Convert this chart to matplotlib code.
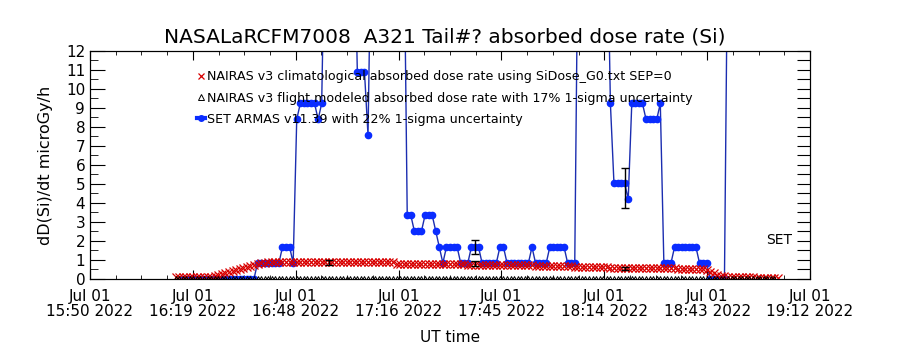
import numpy as np
import matplotlib
matplotlib.use("Agg")
import matplotlib.pyplot as plt
from matplotlib.lines import Line2D
from matplotlib.ticker import MultipleLocator, AutoMinorLocator

# ---------------------------------------------------------------- data
# time axis: minutes after 15:50 UT, 1-min cadence
T0_SET, T0_CLIM, T0_FLT = 26, 24, 24
OFF = 20.0   # samples that run off the top of the plot

set_armas = (
    [0.0] * 21 +
    [0.84] * 7 + [1.68] * 3 + [0.84] + [8.4] + [9.24] * 5 + [8.4] + [9.24] +
    [OFF] * 9 + [10.92] * 3 + [7.56] + [OFF] * 10 +
    [3.36] * 2 + [2.52] * 3 + [3.36] * 3 + [2.52] + [1.68] + [0.84] +
    [1.68] * 4 + [0.84] * 3 + [1.68] * 3 + [0.84] * 5 + [1.68] * 2 +
    [0.84] * 7 + [1.68] + [0.84] * 4 + [1.68] * 5 + [0.84] * 3 +
    [OFF] * 9 + [9.24] + [5.04] * 4 + [4.2] + [9.24] * 4 + [8.4] * 4 + [9.24] +
    [0.84] * 3 + [1.68] * 7 + [0.84] * 3 + [0.0] * 5 + [OFF]
)

clim = [
    0.08, 0.08, 0.09, 0.09, 0.10, 0.10, 0.10, 0.11, 0.11, 0.12,
    0.13, 0.16, 0.20, 0.25, 0.30, 0.35, 0.41, 0.47, 0.53, 0.59,
    0.65, 0.70, 0.76, 0.80, 0.83, 0.86, 0.87,
    0.88, 0.88, 0.89, 0.89, 0.89, 0.90, 0.90, 0.90, 0.90, 0.90,
    0.90, 0.90, 0.90, 0.90, 0.90, 0.90, 0.90, 0.89, 0.89, 0.89,
    0.89, 0.89, 0.89, 0.89, 0.89, 0.89, 0.89, 0.89, 0.89, 0.89,
    0.89, 0.89, 0.88, 0.88, 0.88,
    0.80, 0.80, 0.79, 0.79, 0.79, 0.79, 0.79, 0.79, 0.79, 0.78,
    0.78, 0.78, 0.78, 0.78, 0.77, 0.77, 0.77, 0.77, 0.77, 0.77,
    0.76, 0.76, 0.76, 0.76, 0.76, 0.75, 0.75, 0.75, 0.75, 0.75,
    0.74,
    0.74, 0.74, 0.73, 0.73, 0.72, 0.72, 0.71, 0.71, 0.70, 0.70,
    0.69, 0.69, 0.68, 0.68, 0.67, 0.67, 0.66, 0.66, 0.66, 0.65,
    0.65, 0.64, 0.64, 0.63, 0.63, 0.62, 0.62, 0.61, 0.61, 0.60,
    0.60, 0.60, 0.59, 0.59, 0.59, 0.58, 0.58, 0.58, 0.58, 0.57,
    0.57, 0.57, 0.57, 0.56, 0.56, 0.56, 0.56, 0.56, 0.55, 0.55,
    0.55, 0.55, 0.54, 0.53,
    0.54, 0.52, 0.46, 0.38, 0.30, 0.23, 0.17, 0.14, 0.12, 0.11,
    0.10, 0.10, 0.09, 0.09, 0.08, 0.08, 0.07, 0.07, 0.06, 0.06,
    0.05, 0.05, 0.04,
]

flight = [0.0] * 169

# error bars (minutes, value, 1-sigma)
flt_err_t = [67, 108, 150]
flt_err_y = [0.87, 0.80, 0.56]
set_err_t = [108, 150]
set_err_y = [1.68, 4.80]

tick_labels = ["Jul 01\n15:50 2022", "Jul 01\n16:19 2022", "Jul 01\n16:48 2022",
               "Jul 01\n17:16 2022", "Jul 01\n17:45 2022", "Jul 01\n18:14 2022",
               "Jul 01\n18:43 2022", "Jul 01\n19:12 2022"]

t_set = T0_SET + np.arange(len(set_armas))
t_clim = T0_CLIM + np.arange(len(clim))
t_flt = T0_FLT + np.arange(len(flight))

# ---------------------------------------------------------------- plot
RED, BLUE_L, BLUE_M = "#d80000", "#1b2db0", "#0a2cff"
fig = plt.figure(figsize=(9, 3.5), dpi=100)
ax = fig.add_axes([0.1, 0.2029, 0.8, 0.6514])

ax.plot(t_set, set_armas, "-", color=BLUE_L, lw=1.0, zorder=2)
ax.plot(t_set, set_armas, "o", color=BLUE_M, ms=4.5, ls="none", zorder=3)
ax.plot(t_clim, clim, "x", color=RED, ms=5.5, mew=0.9, ls="none", zorder=4)
ax.plot(t_flt, flight, "^", mfc="none", mec="k", ms=4, mew=0.7, ls="none", zorder=5)
ax.errorbar(flt_err_t, flt_err_y, yerr=[0.17 * v for v in flt_err_y], fmt="none",
            ecolor="k", elinewidth=1, capsize=3, zorder=6)
ax.errorbar(set_err_t, set_err_y, yerr=[0.22 * v for v in set_err_y], fmt="none",
            ecolor="k", elinewidth=1, capsize=3, zorder=6)

ax.set_xlim(0, 202)
ax.set_ylim(0, 12)
ax.set_xticks(np.linspace(0, 202, 8))
ax.set_xticklabels(tick_labels, fontsize=11, linespacing=1.0)
ax.xaxis.set_minor_locator(AutoMinorLocator(4))
ax.set_yticks(range(13))
ax.yaxis.set_minor_locator(MultipleLocator(0.5))
ax.tick_params(axis="x", which="major", direction="in", length=6.5, top=True, pad=7)
ax.tick_params(axis="x", which="minor", direction="in", length=3.2, top=True)
ax.tick_params(axis="y", which="major", direction="in", length=10.8, labelsize=11, right=False)
ax.tick_params(axis="y", which="minor", direction="in", length=5.5, right=False)

ax2 = ax.twinx()
ax2.set_ylim(0, 12)
ax2.set_yticks(np.arange(0, 12.5, 0.5))
ax2.tick_params(axis="y", direction="in", length=9.4, labelright=False)

ax.set_xlabel("UT time", fontsize=11, labelpad=8)
ax.set_ylabel("dD(Si)/dt microGy/h", fontsize=11.5, labelpad=9)
ax.text(197, 2.05, "SET", ha="right", va="center", fontsize=10)
fig.text(0.494, 0.894, "NASALaRCFM7008  A321 Tail#? absorbed dose rate (Si)",
         ha="center", va="center", fontsize=14.5)

handles = [
    Line2D([], [], color=RED, marker="x", ms=5, mew=0.9, ls="none"),
    Line2D([], [], color="k", marker="^", mfc="none", ms=4, mew=0.7, ls="none"),
    Line2D([], [], color=BLUE_M, marker="o", ms=4, lw=3),
]
labels = ["NAIRAS v3 climatological absorbed dose rate using SiDose_G0.txt SEP=0",
          "NAIRAS v3 flight modeled absorbed dose rate with 17% 1-sigma uncertainty",
          "SET ARMAS v11.39 with 22% 1-sigma uncertainty"]
ax.legend(handles, labels, loc="upper left", bbox_to_anchor=(0.148, 0.915),
          frameon=False, fontsize=9.1, handlelength=0.7, handletextpad=0.15,
          labelspacing=0.65, borderpad=0, borderaxespad=0)

fig.savefig("out.png", dpi=100)
